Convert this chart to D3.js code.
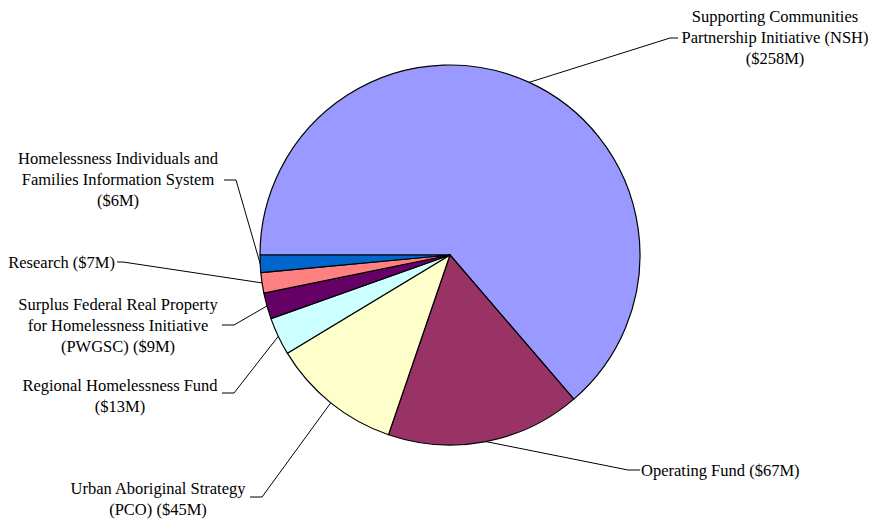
<!DOCTYPE html>
<html>
<head>
<meta charset="utf-8">
<script src="https://cdn.jsdelivr.net/npm/d3@7"></script>
<style>
  html, body { margin: 0; padding: 0; background: #fff; }
  svg { display: block; font-family: "Liberation Serif"; }
</style>
</head>
<body>
<svg id="chart" width="871" height="519"></svg>
<script>
// Homelessness funding by program ($ millions)
const programs = [
  "Supporting Communities Partnership Initiative (NSH)",
  "Operating Fund",
  "Urban Aboriginal Strategy (PCO)",
  "Regional Homelessness Fund",
  "Surplus Federal Real Property for Homelessness Initiative (PWGSC)",
  "Research",
  "Homelessness Individuals and Families Information System"
];
const funding = [258, 67, 45, 13, 9, 7, 6];
const labelLines = [
  ["Supporting Communities", "Partnership Initiative (NSH)", "($258M)"],
  ["Operating Fund ($67M)"],
  ["Urban Aboriginal Strategy", "(PCO) ($45M)"],
  ["Regional Homelessness Fund", "($13M)"],
  ["Surplus Federal Real Property", "for Homelessness Initiative", "(PWGSC) ($9M)"],
  ["Research ($7M)"],
  ["Homelessness Individuals and", "Families Information System", "($6M)"]
];
const colors = ["#9999FF", "#993366", "#FFFFCC", "#CCFFFF", "#660066", "#FF8080", "#0066CC"];

const svg = d3.select("#chart");
const cx = 450, cy = 255, R = 190;
const g = svg.append("g").attr("transform", `translate(${cx},${cy})`);

const pie = d3.pie().sort(null)
  .startAngle(1.5 * Math.PI)
  .endAngle(3.5 * Math.PI);
const arcs = pie(funding);
const arc = d3.arc().innerRadius(0).outerRadius(R);

g.selectAll("path.slice")
  .data(arcs)
  .join("path")
  .attr("class", "slice")
  .attr("d", arc)
  .attr("fill", (d, i) => colors[i])
  .attr("stroke", "#000")
  .attr("stroke-width", 1.2)
  .attr("stroke-linejoin", "round");

// Leader line elbows and label anchors (page coordinates)
const layout = [
  { elbow: [670, 38], end: [678, 38], tx: 775, ty: 16, anchor: "middle" },
  { elbow: [628, 470], end: [640, 470], tx: 641, ty: 470, anchor: "start" },
  { elbow: [262, 497], end: [250, 497], tx: 158, ty: 488, anchor: "middle" },
  { elbow: [234, 393], end: [222, 393], tx: 120, ty: 385, anchor: "middle" },
  { elbow: [234, 325], end: [222, 325], tx: 118, ty: 304, anchor: "middle" },
  { elbow: [123, 262], end: [117, 262], tx: 115, ty: 262, anchor: "end" },
  { elbow: [236, 180], end: [224, 180], tx: 118, ty: 158, anchor: "middle" }
];
const lineH = 21;

arcs.forEach((d, i) => {
  const mid = (d.startAngle + d.endAngle) / 2;
  const px = cx + R * Math.sin(mid);
  const py = cy - R * Math.cos(mid);
  const L = layout[i];
  svg.append("polyline")
    .attr("points", [[px, py], L.elbow, L.end].map(p => p.join(",")).join(" "))
    .attr("fill", "none")
    .attr("stroke", "#000")
    .attr("stroke-width", 1);
  labelLines[i].forEach((ln, k) => {
    svg.append("text")
      .style("font-family", '"Liberation Serif"')
      .style("font-size", "16.5px")
      .attr("fill", "#000")
      .attr("text-anchor", L.anchor)
      .attr("x", L.tx)
      .attr("y", L.ty + k * lineH + 6)
      .text(ln);
  });
});
</script>
</body>
</html>
